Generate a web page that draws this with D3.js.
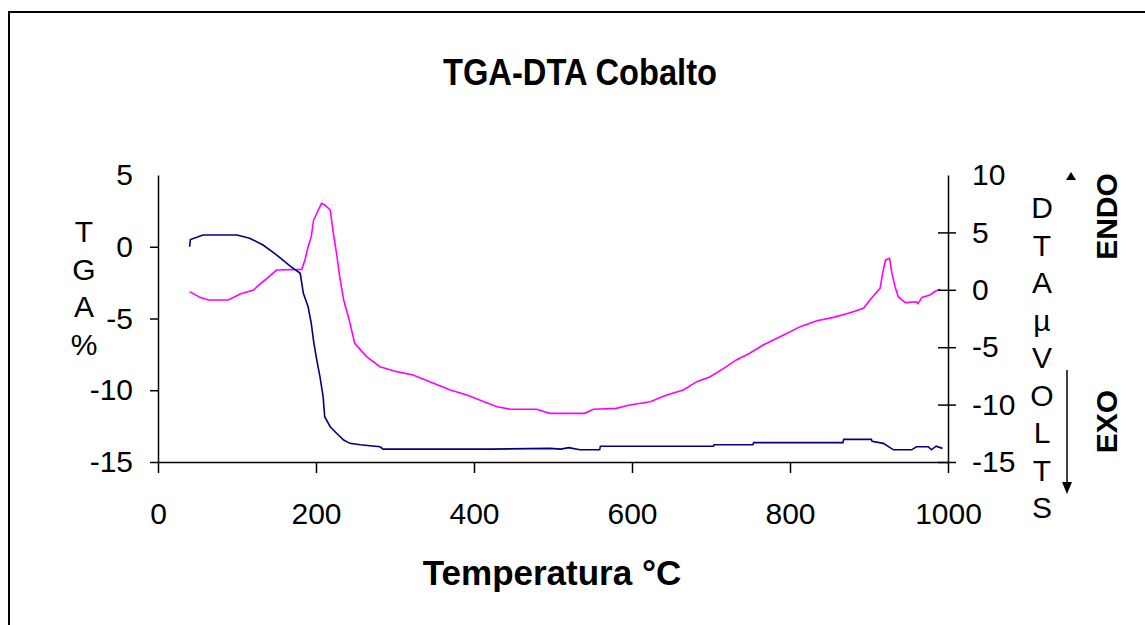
<!DOCTYPE html>
<html>
<head>
<meta charset="utf-8">
<script src="https://cdn.jsdelivr.net/npm/d3@7"></script>
<style>
  html, body { margin: 0; padding: 0; background: #fff; }
  svg { display: block; }
  text { font-family: "Liberation Sans", Arial, sans-serif; fill: #000; }
</style>
</head>
<body>
<svg id="chart" width="1145" height="625"></svg>
<script>
// ---- data ----
const title = "TGA-DTA Cobalto";
const xLabel = "Temperatura °C";
const tgaLetters = ["T", "G", "A", "%"];
const dtaLetters = ["D", "T", "A", "µ", "V", "O", "L", "T", "S"];
const xTicks = [0, 200, 400, 600, 800, 1000];
const tgaTicks = [5, 0, -5, -10, -15];
const dtaTicks = [10, 5, 0, -5, -10, -15];

const tgaTemp = [40, 41, 57, 100, 116, 133, 150, 167, 180, 184, 190, 194, 197, 201, 205, 209, 211, 218, 226, 235, 243, 256, 281, 285, 420, 496, 510, 520, 534, 559, 560, 703, 704, 753, 754, 867, 868, 903, 904, 918, 931, 954, 960, 975, 979, 985, 993];
const tgaValue = [0.0, 0.5, 0.82, 0.82, 0.59, 0.12, -0.57, -1.34, -1.85, -3.25, -4.18, -5.34, -6.6, -7.9, -9.05, -10.45, -11.84, -12.54, -13.0, -13.47, -13.7, -13.8, -13.94, -14.1, -14.1, -14.05, -14.1, -14.0, -14.15, -14.15, -13.9, -13.9, -13.8, -13.8, -13.65, -13.65, -13.42, -13.42, -13.55, -13.7, -14.15, -14.15, -13.94, -13.94, -14.15, -13.9, -14.05];

const dtaTemp = [40, 53, 64, 89, 104, 121, 129, 138, 150, 182, 186, 190, 194, 197, 203, 207, 211, 218, 222, 226, 230, 235, 241, 245, 249, 264, 281, 302, 323, 344, 370, 391, 412, 429, 446, 479, 496, 540, 551, 580, 597, 623, 644, 665, 682, 699, 716, 732, 749, 766, 792, 813, 834, 855, 876, 893, 903, 914, 918, 921, 926, 929, 933, 937, 946, 960, 962, 967, 977, 985, 990];
const dtaValue = [-0.16, -0.66, -0.89, -0.89, -0.37, -0.02, 0.5, 1.0, 1.72, 1.78, 2.6, 3.76, 4.63, 6.08, 6.95, 7.53, 7.39, 6.95, 4.92, 3.18, 1.14, -0.89, -2.34, -3.5, -4.66, -5.82, -6.7, -7.13, -7.42, -8.0, -8.73, -9.16, -9.74, -10.18, -10.4, -10.4, -10.76, -10.76, -10.41, -10.33, -10.04, -9.75, -9.16, -8.73, -8.0, -7.57, -6.84, -6.11, -5.53, -4.81, -3.94, -3.21, -2.69, -2.4, -1.99, -1.61, -0.74, 0.13, 1.72, 2.6, 2.74, 1.43, 0.27, -0.6, -1.12, -1.04, -1.2, -0.66, -0.45, -0.08, 0.04];

// ---- layout ----
const svg = d3.select("#chart");
const plot = { left: 158, right: 948, top: 175, bottom: 462 };

svg.append("rect").attr("x", 0).attr("y", 0).attr("width", 1145).attr("height", 625).attr("fill", "#fff");
svg.append("rect").attr("x", 9).attr("y", 12).attr("width", 1150).attr("height", 640)
  .attr("fill", "none").attr("stroke", "#000").attr("stroke-width", 2);

const x = d3.scaleLinear().domain([0, 1000]).range([plot.left, plot.right]);
const yL = d3.scaleLinear().domain([-15, 5]).range([plot.bottom, plot.top]);
const yR = d3.scaleLinear().domain([-15, 10]).range([plot.bottom, plot.top]);

// lines
const tgaData = tgaTemp.map((t, i) => [t, tgaValue[i]]);
const dtaData = dtaTemp.map((t, i) => [t, dtaValue[i]]);

svg.append("path").datum(dtaData)
  .attr("fill", "none").attr("stroke", "#ff00ff").attr("stroke-width", 1.6)
  .attr("d", d3.line().x(d => x(d[0])).y(d => yR(d[1])));
svg.append("path").datum(tgaData)
  .attr("fill", "none").attr("stroke", "#000080").attr("stroke-width", 1.6)
  .attr("d", d3.line().x(d => x(d[0])).y(d => yL(d[1])));

// axes
const fmt = d => String(d);
function styleAxis(g) {
  g.selectAll("path.domain").attr("stroke", "#000").attr("stroke-width", 1.5);
  g.selectAll(".tick line").attr("stroke", "#000").attr("stroke-width", 1.5);
  g.selectAll(".tick text").style("font-family", '"Liberation Sans", Arial, sans-serif')
    .style("font-size", "30px").attr("fill", "#000");
  g.attr("font-size", null).attr("font-family", null);
}

const gx = svg.append("g").attr("transform", `translate(0,${plot.bottom})`)
  .call(d3.axisBottom(x).tickValues(xTicks).tickFormat(fmt).tickSize(11).tickSizeOuter(0).tickPadding(30));
styleAxis(gx);

const gl = svg.append("g").attr("transform", `translate(${plot.left},0)`)
  .call(d3.axisLeft(yL).tickValues(tgaTicks).tickFormat(fmt).tickSize(8).tickSizeOuter(0).tickPadding(17));
styleAxis(gl);
gl.selectAll(".tick").filter(d => d === 5).select("line").remove();

const gr = svg.append("g").attr("transform", `translate(${plot.right},0)`)
  .call(d3.axisRight(yR).tickValues(dtaTicks).tickFormat(fmt).tickSize(8).tickSizeOuter(0).tickPadding(16));
styleAxis(gr);
gr.selectAll(".tick line").attr("x1", -10).attr("x2", 8);
gr.selectAll(".tick").filter(d => d === 10).select("line").remove();

// title
svg.append("text").attr("x", 580).attr("y", 85).attr("text-anchor", "middle")
  .attr("font-weight", "bold").attr("font-size", 36)
  .attr("textLength", 274).attr("lengthAdjust", "spacingAndGlyphs")
  .text(title);

// x label
svg.append("text").attr("x", 552).attr("y", 585).attr("text-anchor", "middle")
  .attr("font-weight", "bold").attr("font-size", 35).text(xLabel);

// left vertical label
const tl = svg.append("text").attr("text-anchor", "middle").attr("font-size", 30);
tgaLetters.forEach((c, i) => {
  tl.append("tspan").attr("x", 84).attr("y", 242 + i * 37.5).text(c);
});

// right vertical label
const tr = svg.append("text").attr("text-anchor", "middle").attr("font-size", 30);
dtaLetters.forEach((c, i) => {
  tr.append("tspan").attr("x", 1042).attr("y", 218 + i * 37.5).text(c);
});

// ENDO / EXO
svg.append("text").attr("transform", "translate(1117,216.5) rotate(-90)")
  .attr("text-anchor", "middle").attr("font-weight", "bold").attr("font-size", 30).text("ENDO");
svg.append("text").attr("transform", "translate(1117,421.5) rotate(-90)")
  .attr("text-anchor", "middle").attr("font-weight", "bold").attr("font-size", 30).text("EXO");

// arrows
svg.append("path").attr("d", "M1071,172 L1066,180 L1076,180 Z").attr("fill", "#000");
svg.append("line").attr("x1", 1067).attr("x2", 1067).attr("y1", 370).attr("y2", 485)
  .attr("stroke", "#000").attr("stroke-width", 1.5);
svg.append("path").attr("d", "M1067,494 L1062,482 L1072,482 Z").attr("fill", "#000");
</script>
</body>
</html>
